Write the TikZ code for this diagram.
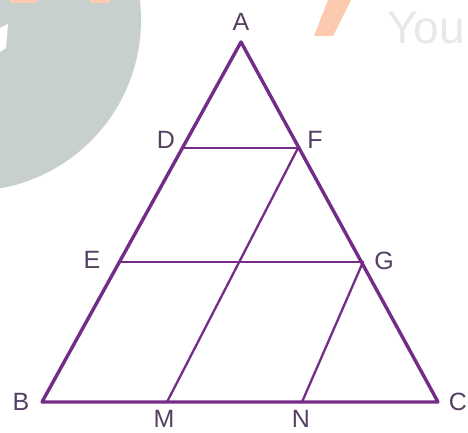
\documentclass[tikz,border=0pt]{standalone}
\usepackage{fontspec}
\setmainfont{Liberation Sans}
\usepackage{xcolor}
\definecolor{triPurple}{RGB}{117, 44, 135}
\definecolor{lblGray}{RGB}{86, 64, 98}
\definecolor{wmGray}{RGB}{200, 208, 206}
\definecolor{wmOrange}{RGB}{252, 203, 175}
\definecolor{wmText}{RGB}{232, 232, 234}
\usepackage{tikz}

\begin{document}
\begin{tikzpicture}[x=1pt, y=-1pt,
    side/.style={draw=triPurple, line width=3.4pt, line join=round, line cap=round},
    inner/.style={draw=triPurple, line width=2.3pt, line cap=round},
    lbl/.style={text=lblGray, inner sep=0pt, font=\fontsize{25}{25}\selectfont}
]
\useasboundingbox (0,0) rectangle (468,433);
\clip (0,0) rectangle (468,433);

% watermark in the background
\fill[wmGray] (-30,20) circle[radius=171];
\fill[white] (0,28) -- (8,24) -- (6,48) -- (0,52) -- cycle;
\fill[wmOrange] (10,0) rectangle (37,3);
\fill[wmOrange] (90,0) rectangle (110,3);
\fill[wmOrange] (328,0) -- (351,0) -- (333,36) -- (314,36) -- cycle;
\node[anchor=base west, inner sep=0pt, text=wmText,
    font=\fontsize{46}{46}\selectfont] (you) at (387,44) {You};

% vertices
\coordinate (A) at (241,42);
\coordinate (B) at (42,402);
\coordinate (C) at (438,402);
\coordinate (D) at (183,148);
\coordinate (F) at (298,148);
\coordinate (E) at (120,262);
\coordinate (G) at (363,262);
\coordinate (M) at (167,402);
\coordinate (N) at (302,402);

\draw[side] (A) -- (B) -- (C) -- cycle;
\draw[inner] (D) -- (F);
\draw[inner] (E) -- (G);
\draw[inner] (F) -- (M);
\draw[inner] (G) -- (N);

% labels
\node[lbl] (lA) at (241,22)  {A};
\node[lbl] (lD) at (166,140) {D};
\node[lbl] (lF) at (315,140) {F};
\node[lbl] (lE) at (92,260)  {E};
\node[lbl] (lG) at (384,261) {G};
\node[lbl] (lB) at (21,402)  {B};
\node[lbl] (lC) at (458,402) {C};
\node[lbl] (lM) at (164,419) {M};
\node[lbl] (lN) at (301,419) {N};

\end{tikzpicture}
\end{document}
